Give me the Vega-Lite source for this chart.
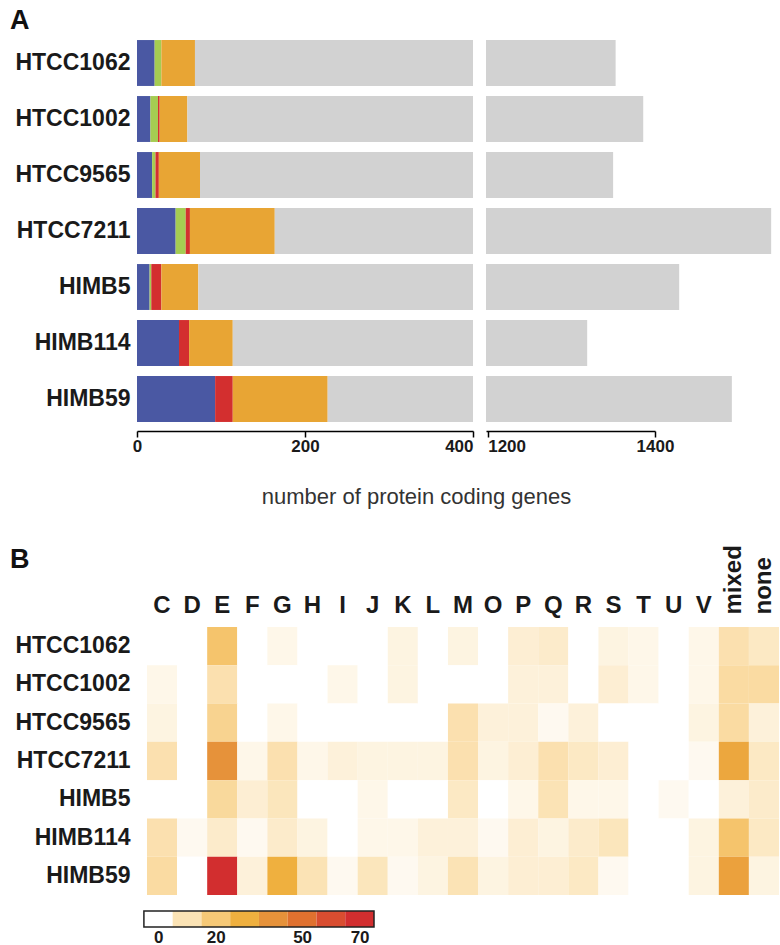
{
  "$schema": "https://vega.github.io/schema/vega-lite/v6.json",
  "autosize": {"type": "pad"},
  "padding": {"left": 10, "top": 7, "right": 0, "bottom": 0},
  "background": "white",
  "spacing": 37,
  "resolve": {"scale": {"color": "independent"}},
  "config": {
    "font": "Liberation Sans",
    "view": {"stroke": null},
    "axis": {"grid": false}
  },
  "datasets": {
    "bars": [
      {"strain": "HTCC1062", "cat": "blue", "idx": 1, "n": 21},
      {"strain": "HTCC1062", "cat": "green", "idx": 2, "n": 8},
      {"strain": "HTCC1062", "cat": "red", "idx": 3, "n": 0},
      {"strain": "HTCC1062", "cat": "orange", "idx": 4, "n": 40},
      {"strain": "HTCC1062", "cat": "rest", "idx": 5, "n": 1284},
      {"strain": "HTCC1002", "cat": "blue", "idx": 1, "n": 16},
      {"strain": "HTCC1002", "cat": "green", "idx": 2, "n": 9},
      {"strain": "HTCC1002", "cat": "red", "idx": 3, "n": 2},
      {"strain": "HTCC1002", "cat": "orange", "idx": 4, "n": 33},
      {"strain": "HTCC1002", "cat": "rest", "idx": 5, "n": 1326},
      {"strain": "HTCC9565", "cat": "blue", "idx": 1, "n": 18},
      {"strain": "HTCC9565", "cat": "green", "idx": 2, "n": 4},
      {"strain": "HTCC9565", "cat": "red", "idx": 3, "n": 4},
      {"strain": "HTCC9565", "cat": "orange", "idx": 4, "n": 49},
      {"strain": "HTCC9565", "cat": "rest", "idx": 5, "n": 1275},
      {"strain": "HTCC7211", "cat": "blue", "idx": 1, "n": 46},
      {"strain": "HTCC7211", "cat": "green", "idx": 2, "n": 12},
      {"strain": "HTCC7211", "cat": "red", "idx": 3, "n": 5},
      {"strain": "HTCC7211", "cat": "orange", "idx": 4, "n": 101},
      {"strain": "HTCC7211", "cat": "rest", "idx": 5, "n": 1375},
      {"strain": "HIMB5", "cat": "blue", "idx": 1, "n": 15},
      {"strain": "HIMB5", "cat": "green", "idx": 2, "n": 2},
      {"strain": "HIMB5", "cat": "red", "idx": 3, "n": 12},
      {"strain": "HIMB5", "cat": "orange", "idx": 4, "n": 44},
      {"strain": "HIMB5", "cat": "rest", "idx": 5, "n": 1356},
      {"strain": "HIMB114", "cat": "blue", "idx": 1, "n": 50},
      {"strain": "HIMB114", "cat": "green", "idx": 2, "n": 0},
      {"strain": "HIMB114", "cat": "red", "idx": 3, "n": 12},
      {"strain": "HIMB114", "cat": "orange", "idx": 4, "n": 52},
      {"strain": "HIMB114", "cat": "rest", "idx": 5, "n": 1205},
      {"strain": "HIMB59", "cat": "blue", "idx": 1, "n": 93},
      {"strain": "HIMB59", "cat": "green", "idx": 2, "n": 0},
      {"strain": "HIMB59", "cat": "red", "idx": 3, "n": 21},
      {"strain": "HIMB59", "cat": "orange", "idx": 4, "n": 113},
      {"strain": "HIMB59", "cat": "rest", "idx": 5, "n": 1265}
    ],
    "heat": [
      {"strain": "HTCC1062", "C": 0, "D": 0, "E": 22, "F": 0, "G": 3, "H": 0, "I": 0, "J": 0, "K": 4, "L": 0, "M": 4, "O": 0, "P": 6, "Q": 7, "R": 0, "S": 4, "T": 3, "U": 0, "V": 3, "mixed": 11, "none": 8},
      {"strain": "HTCC1002", "C": 3, "D": 0, "E": 11, "F": 0, "G": 0, "H": 0, "I": 3, "J": 0, "K": 4, "L": 0, "M": 0, "O": 0, "P": 5, "Q": 5, "R": 0, "S": 6, "T": 3, "U": 0, "V": 3, "mixed": 13, "none": 13},
      {"strain": "HTCC9565", "C": 4, "D": 0, "E": 16, "F": 0, "G": 3, "H": 0, "I": 0, "J": 0, "K": 0, "L": 0, "M": 11, "O": 5, "P": 5, "Q": 2, "R": 5, "S": 0, "T": 0, "U": 0, "V": 4, "mixed": 13, "none": 5},
      {"strain": "HTCC7211", "C": 11, "D": 0, "E": 40, "F": 3, "G": 11, "H": 3, "I": 5, "J": 4, "K": 4, "L": 4, "M": 11, "O": 4, "P": 6, "Q": 11, "R": 8, "S": 6, "T": 0, "U": 0, "V": 2, "mixed": 33, "none": 8},
      {"strain": "HIMB5", "C": 0, "D": 0, "E": 14, "F": 6, "G": 9, "H": 0, "I": 0, "J": 3, "K": 0, "L": 0, "M": 8, "O": 0, "P": 3, "Q": 10, "R": 3, "S": 3, "T": 0, "U": 2, "V": 0, "mixed": 5, "none": 7},
      {"strain": "HIMB114", "C": 11, "D": 2, "E": 7, "F": 2, "G": 7, "H": 4, "I": 0, "J": 3, "K": 3, "L": 5, "M": 5, "O": 2, "P": 6, "Q": 4, "R": 7, "S": 9, "T": 0, "U": 0, "V": 4, "mixed": 22, "none": 8},
      {"strain": "HIMB59", "C": 13, "D": 0, "E": 70, "F": 5, "G": 30, "H": 10, "I": 2, "J": 9, "K": 2, "L": 4, "M": 10, "O": 4, "P": 6, "Q": 6, "R": 8, "S": 2, "T": 0, "U": 0, "V": 4, "mixed": 35, "none": 4}
    ],
    "bins": [
      {"lo": 0, "hi": 10, "v": 0},
      {"lo": 10, "hi": 20, "v": 10},
      {"lo": 20, "hi": 30, "v": 20},
      {"lo": 30, "hi": 40, "v": 30},
      {"lo": 40, "hi": 50, "v": 40},
      {"lo": 50, "hi": 60, "v": 50},
      {"lo": 60, "hi": 70, "v": 60},
      {"lo": 70, "hi": 80, "v": 70}
    ],
    "frame": [{"lo": 0, "hi": 80}]
  },
  "vconcat": [
    {
      "title": {"text": "A", "anchor": "start", "frame": "group", "fontSize": 27, "fontWeight": "bold", "dx": -127, "offset": 0, "color": "#111111"},
      "bounds": "flush",
      "spacing": 13,
      "hconcat": [
        {
          "width": 336,
          "height": 392,
          "data": {"name": "bars"},
          "mark": {"type": "bar", "clip": true},
          "encoding": {
            "y": {
              "field": "strain", "type": "nominal",
              "sort": ["HTCC1062", "HTCC1002", "HTCC9565", "HTCC7211", "HIMB5", "HIMB114", "HIMB59"],
              "scale": {"paddingInner": 0.18, "paddingOuter": 0.09},
              "axis": {"title": null, "domain": false, "ticks": false, "labelFontSize": 23, "labelFontWeight": "bold", "labelColor": "#1a1a1a", "labelPadding": 7}
            },
            "x": {
              "field": "n", "type": "quantitative", "stack": "zero",
              "scale": {"domain": [0, 400], "nice": false},
              "axis": {
                "values": [0, 200, 400],
                "format": "d",
                "title": "number of protein coding genes",
                "titleFontSize": 22, "titleFontWeight": "normal", "titleColor": "#333333",
                "titleX": 279, "titleY": 65, "titleAlign": "center", "titleBaseline": "middle",
                "domainColor": "black", "domainWidth": 1.5,
                "tickColor": "black", "tickWidth": 1.5, "tickSize": 6,
                "offset": 4,
                "labelFontSize": 17, "labelFontWeight": "bold", "labelColor": "#1a1a1a", "labelPadding": 1,
                "labelAlign": {"condition": {"test": "datum.value == 400", "value": "right"}, "value": "center"}
              }
            },
            "color": {
              "field": "cat", "type": "nominal",
              "scale": {"domain": ["blue", "green", "red", "orange", "rest"], "range": ["#4a58a3", "#a5cc52", "#d32f2f", "#e8a534", "#d2d2d2"]},
              "legend": null
            },
            "order": {"field": "idx", "type": "quantitative"}
          }
        },
        {
          "width": 286,
          "height": 392,
          "data": {"name": "bars"},
          "mark": {"type": "bar", "clip": true},
          "encoding": {
            "y": {
              "field": "strain", "type": "nominal",
              "sort": ["HTCC1062", "HTCC1002", "HTCC9565", "HTCC7211", "HIMB5", "HIMB114", "HIMB59"],
              "scale": {"paddingInner": 0.18, "paddingOuter": 0.09},
              "axis": null
            },
            "x": {
              "field": "n", "type": "quantitative", "stack": "zero",
              "scale": {"domain": [1198, 1540], "nice": false, "zero": false},
              "axis": {
                "values": [1200, 1400],
                "format": "d",
                "title": null,
                "domainColor": "black", "domainWidth": 1.5, "domainDash": [169, 400],
                "tickColor": "black", "tickWidth": 1.5, "tickSize": 6,
                "offset": 4,
                "labelFontSize": 17, "labelFontWeight": "bold", "labelColor": "#1a1a1a", "labelPadding": 1,
                "labelAlign": {"condition": {"test": "datum.value == 1200", "value": "left"}, "value": "center"}
              }
            },
            "color": {
              "field": "cat", "type": "nominal",
              "scale": {"domain": ["blue", "green", "red", "orange", "rest"], "range": ["#4a58a3", "#a5cc52", "#d32f2f", "#e8a534", "#d2d2d2"]},
              "legend": null
            },
            "order": {"field": "idx", "type": "quantitative"}
          }
        }
      ]
    },
    {
      "title": {"text": "B", "anchor": "start", "frame": "group", "fontSize": 27, "fontWeight": "bold", "dx": -127, "dy": 29, "offset": 0, "color": "#111111"},
      "bounds": "flush",
      "spacing": 16,
      "resolve": {"scale": {"color": "independent"}},
      "vconcat": [
        {
          "width": 642,
          "height": 268,
          "data": {"name": "heat"},
          "transform": [
            {"fold": ["C", "D", "E", "F", "G", "H", "I", "J", "K", "L", "M", "O", "P", "Q", "R", "S", "T", "U", "V", "mixed", "none"], "as": ["cog", "v"]}
          ],
          "resolve": {"axis": {"x": "independent"}},
          "layer": [
            {
              "mark": {"type": "rect"},
              "encoding": {
                "x": {
                  "field": "cog", "type": "nominal",
                  "sort": ["C", "D", "E", "F", "G", "H", "I", "J", "K", "L", "M", "O", "P", "Q", "R", "S", "T", "U", "V", "mixed", "none"],
                  "scale": {"paddingInner": 0, "paddingOuter": 0.166, "align": 1},
                  "axis": {
                    "orient": "top", "title": null, "domain": false, "ticks": false,
                    "labelAngle": 0,
                    "labelExpr": "length(datum.label) > 1 ? '' : datum.label",
                    "labelFontSize": 24, "labelFontWeight": "bold", "labelColor": "#1a1a1a", "labelPadding": 10
                  }
                },
                "y": {
                  "field": "strain", "type": "nominal",
                  "sort": ["HTCC1062", "HTCC1002", "HTCC9565", "HTCC7211", "HIMB5", "HIMB114", "HIMB59"],
                  "scale": {"paddingInner": 0, "paddingOuter": 0},
                  "axis": {"title": null, "domain": false, "ticks": false, "labelFontSize": 23, "labelFontWeight": "bold", "labelColor": "#1a1a1a", "labelPadding": 7}
                },
                "color": {
                  "field": "v", "type": "quantitative",
                  "scale": {"type": "linear", "interpolate": "rgb", "domain": [0, 10, 20, 30, 40, 50, 60, 70], "range": ["#ffffff", "#fbe3b5", "#f6c977", "#efb03f", "#e6923a", "#e0712f", "#d94d30", "#d22e2f"]},
                  "legend": null
                }
              }
            },
            {
              "mark": {"type": "rect", "opacity": 0},
              "encoding": {
                "x": {
                  "field": "cog", "type": "nominal",
                  "sort": ["C", "D", "E", "F", "G", "H", "I", "J", "K", "L", "M", "O", "P", "Q", "R", "S", "T", "U", "V", "mixed", "none"],
                  "axis": {
                    "orient": "top", "title": null, "domain": false, "ticks": false,
                    "labelAngle": 270,
                    "labelAlign": "left", "labelBaseline": "middle",
                    "labelExpr": "length(datum.label) > 1 ? datum.label : ''",
                    "labelFontSize": 24, "labelFontWeight": "bold", "labelColor": "#1a1a1a", "labelPadding": 13
                  }
                },
                "y": {
                  "field": "strain", "type": "nominal",
                  "sort": ["HTCC1062", "HTCC1002", "HTCC9565", "HTCC7211", "HIMB5", "HIMB114", "HIMB59"]
                }
              }
            }
          ]
        },
        {
          "width": 237,
          "height": 16,
          "layer": [
            {
              "data": {"name": "bins"},
              "mark": {"type": "rect"},
              "encoding": {
                "x": {
                  "field": "lo", "type": "quantitative",
                  "scale": {"domain": [-2.4, 80], "nice": false, "zero": false},
                  "axis": {
                    "values": [5, 25, 55, 75],
                    "labelExpr": "'' + (datum.value - 5)",
                    "title": null, "domain": false, "ticks": false,
                    "labelFontSize": 17, "labelFontWeight": "bold", "labelColor": "#1a1a1a", "labelPadding": 2
                  }
                },
                "x2": {"field": "hi"},
                "color": {
                  "field": "v", "type": "quantitative",
                  "scale": {"type": "linear", "interpolate": "rgb", "domain": [0, 10, 20, 30, 40, 50, 60, 70], "range": ["#ffffff", "#fbe3b5", "#f6c977", "#efb03f", "#e6923a", "#e0712f", "#d94d30", "#d22e2f"]},
                  "legend": null
                }
              }
            },
            {
              "data": {"name": "frame"},
              "mark": {"type": "rect", "fill": null, "stroke": "#222222", "strokeWidth": 1.5},
              "encoding": {
                "x": {"field": "lo", "type": "quantitative"},
                "x2": {"field": "hi"}
              }
            }
          ]
        }
      ]
    }
  ]
}
